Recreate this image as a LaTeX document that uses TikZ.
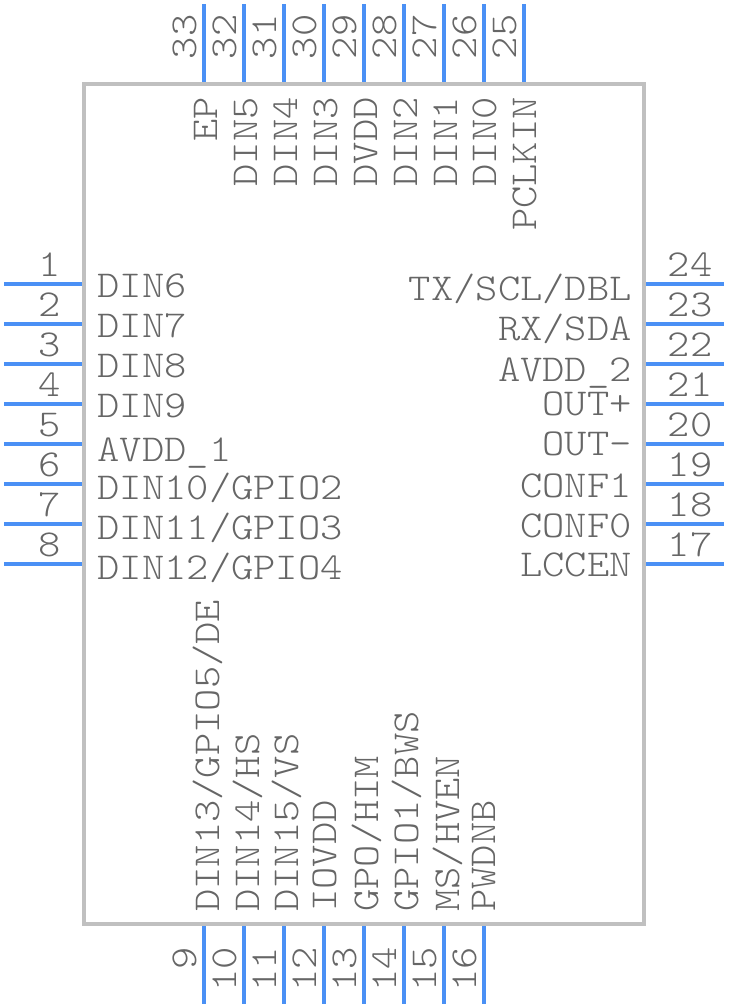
\documentclass[tikz,border=0pt]{standalone}
\usepackage{fontspec}
\setmonofont[FakeStretch=1.117]{Latin Modern Mono Light}
\usetikzlibrary{calc}

\definecolor{bodygray}{HTML}{C0C0C0}
\definecolor{pinblue}{HTML}{4A90F5}
\definecolor{textgray}{HTML}{666666}

\tikzset{
	bodyline/.style = {draw = bodygray, line width = 4pt},
	pinline/.style = {draw = pinblue, line width = 4pt},
	chiptext/.style = {text = textgray, inner sep = 0pt, font = \fontsize{38}{40}\ttfamily},
}

\begin{document}
\begin{tikzpicture}[x = 1pt, y = -1pt]
	\def\pinlength{78}
	\def\bodyleft{84}
	\def\bodyright{644}
	\def\bodytop{84}
	\def\bodybottom{924}

	\useasboundingbox (0,0) rectangle (728,1008);

	\draw[bodyline] (\bodyleft,\bodytop) rectangle (\bodyright,\bodybottom);

	% left side
	\foreach \n/\pintext/\base in {1/DIN6/297, 2/DIN7/337, 3/DIN8/377, 4/DIN9/417, 5/AVDD\_1/461, 6/DIN10\slash GPIO2/499, 7/DIN11\slash GPIO3/539, 8/DIN12\slash GPIO4/579} {
		\coordinate (PinIn\n) at (82,{244 + 40*\n});
		\coordinate (PinOut\n) at ($(PinIn\n) + (-\pinlength,0)$);
		\draw[pinline] (PinIn\n) -- (PinOut\n);
		\node[chiptext, anchor = base] (Num\n) at ($(PinOut\n) + (46,-8)$) {\n};
		\node[chiptext, anchor = base west] (Label\n) at (97.5,\base) {\pintext};
	}

	% bottom side
	\foreach \n/\pintext/\base in {9/DIN13\slash GPIO5\slash DE/219, 10/DIN14\slash HS/259, 11/DIN15\slash VS/298, 12/IOVDD/336, 13/GPO\slash HIM/378, 14/GPIO1\slash BWS/418, 15/MS\slash HVEN/459, 16/PWDNB/495} {
		\coordinate (PinIn\n) at ({204 + 40*(\n - 9)},926);
		\coordinate (PinOut\n) at ($(PinIn\n) + (0,\pinlength)$);
		\draw[pinline] (PinIn\n) -- (PinOut\n);
		\node[chiptext, rotate = 90, anchor = base east] (Num\n) at ($(PinIn\n) + (-8,21)$) {\n};
		\node[chiptext, rotate = 90, anchor = base west] (Label\n) at (\base,912) {\pintext};
	}

	% right side
	\foreach \n/\pintext/\base in {17/LCCEN/576, 18/CONF0/537, 19/CONF1/497, 20/OUT-/455, 21/OUT+/415, 22/AVDD\_2/381, 23/RX\slash SDA/340, 24/TX\slash SCL\slash DBL/300} {
		\coordinate (PinIn\n) at (646,{564 - 40*(\n - 17)});
		\coordinate (PinOut\n) at ($(PinIn\n) + (\pinlength,0)$);
		\draw[pinline] (PinIn\n) -- (PinOut\n);
		\node[chiptext, anchor = base] (Num\n) at ($(PinIn\n) + (44,-8)$) {\n};
		\node[chiptext, anchor = base east] (Label\n) at (632,\base) {\pintext};
	}

	% top side
	\foreach \n/\pintext/\base in {25/PCLKIN/536, 26/DIN0/496, 27/DIN1/457, 28/DIN2/417, 29/DVDD/377, 30/DIN3/337, 31/DIN4/297, 32/DIN5/257, 33/EP/217} {
		\coordinate (PinIn\n) at ({524 - 40*(\n - 25)},82);
		\coordinate (PinOut\n) at ($(PinIn\n) + (0,-\pinlength)$);
		\draw[pinline] (PinIn\n) -- (PinOut\n);
		\node[chiptext, rotate = 90, anchor = base] (Num\n) at ($(PinOut\n) + (-8,33)$) {\n};
		\node[chiptext, rotate = 90, anchor = base east] (Label\n) at (\base,97) {\pintext};
	}
\end{tikzpicture}
\end{document}
